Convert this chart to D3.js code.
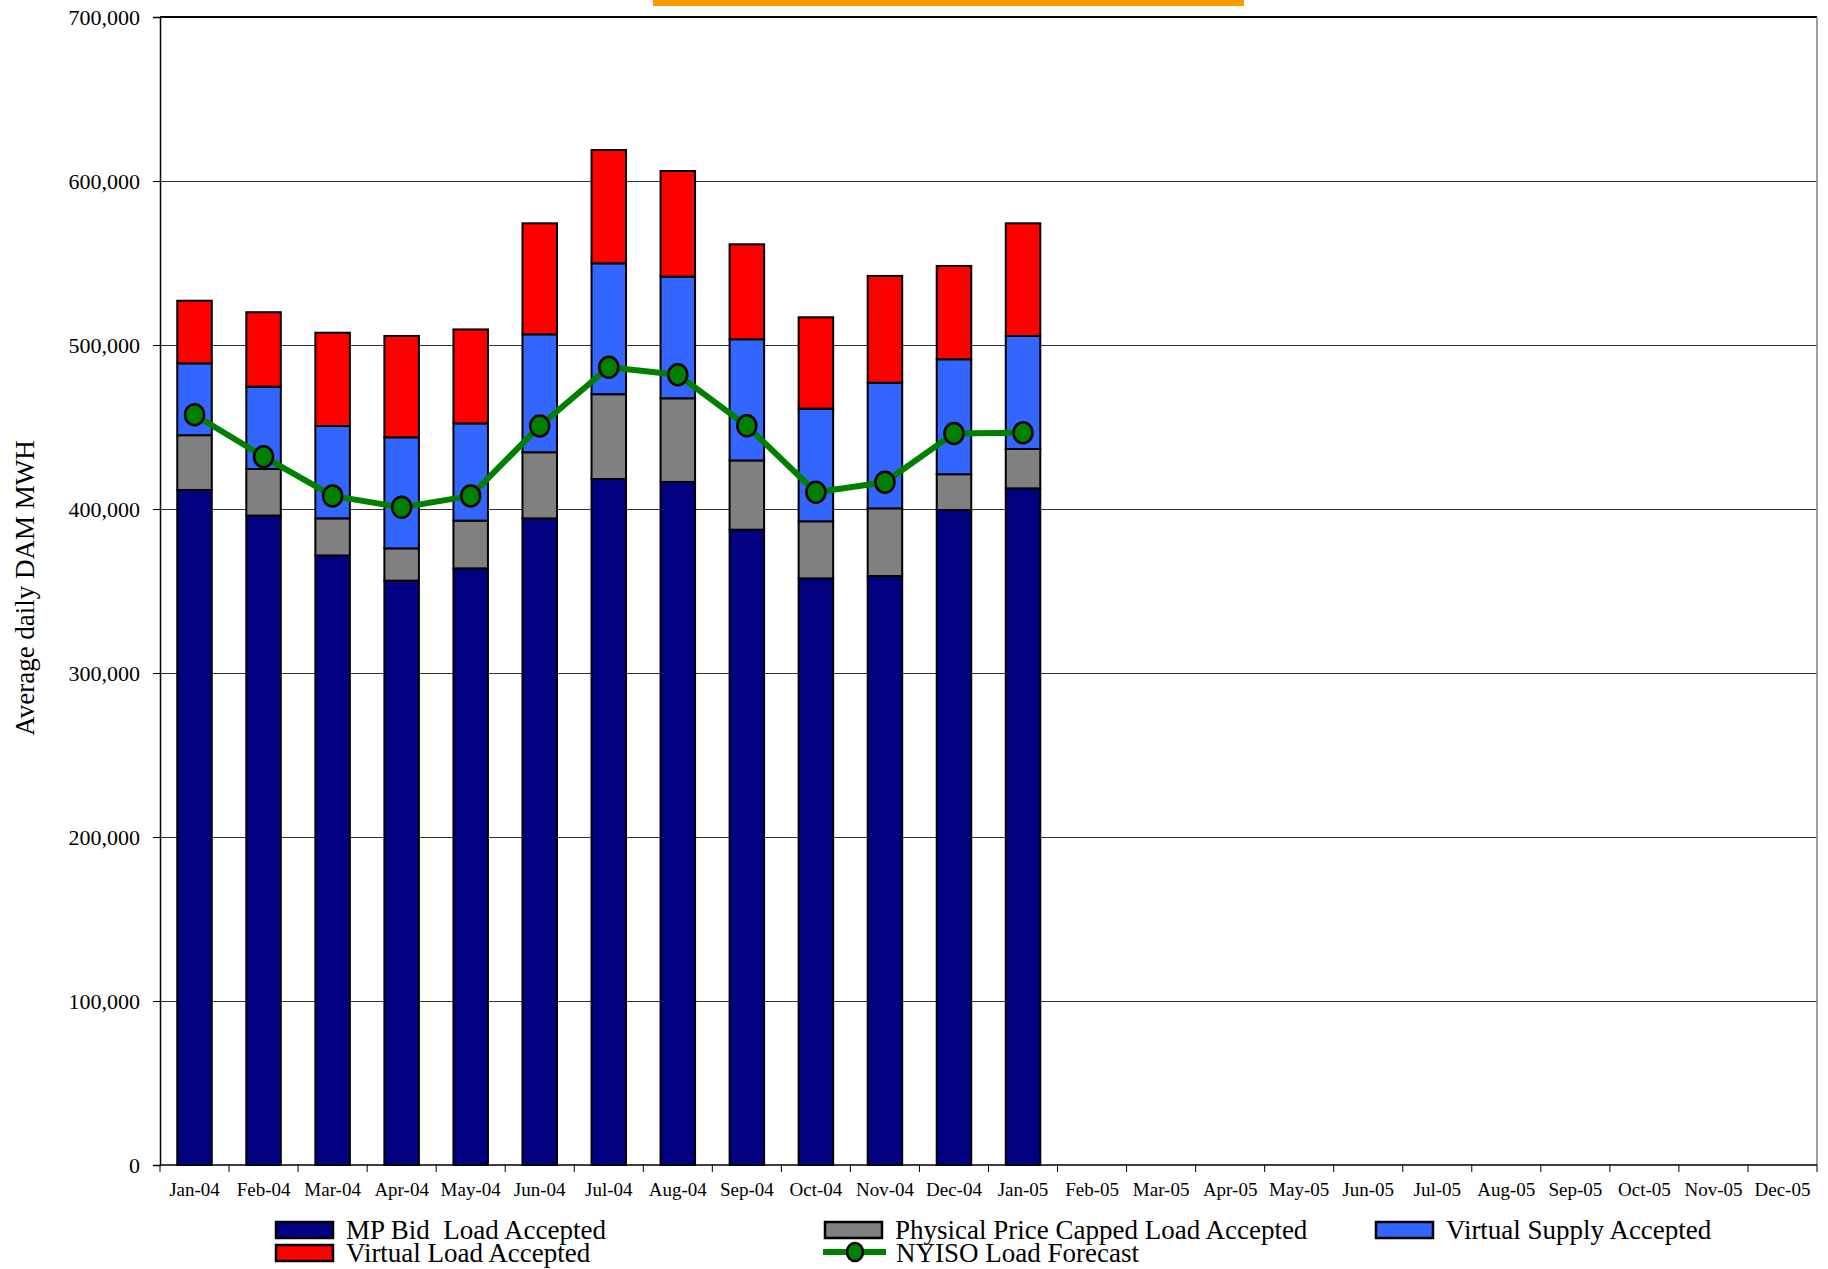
<!DOCTYPE html>
<html>
<head>
<meta charset="utf-8">
<script src="https://cdn.jsdelivr.net/npm/d3@7"></script>
<style>
  body { margin: 0; background: #fff; }
  svg { display: block; font-family: "Liberation Serif", "Times New Roman", serif; }
</style>
</head>
<body>
<div class="d3target"></div>
<script>
'use strict';

// months on the x axis (Jan-04 .. Dec-05)
var months = ['Jan-04','Feb-04','Mar-04','Apr-04','May-04','Jun-04','Jul-04','Aug-04','Sep-04','Oct-04','Nov-04','Dec-04',
              'Jan-05','Feb-05','Mar-05','Apr-05','May-05','Jun-05','Jul-05','Aug-05','Sep-05','Oct-05','Nov-05','Dec-05'];

// stacked series, average daily MWH (only Jan-04 .. Jan-05 have data)
var mpBidLoad      = [411600, 396000, 371700, 356300, 363800, 394300, 418300, 416500, 387400, 357700, 359100, 399400, 412600];
var priceCapped    = [ 33400,  28400,  22600,  19700,  29100,  40300,  51700,  51000,  42200,  34800,  41300,  21800,  24000];
var virtualSupply  = [ 43800,  50200,  56300,  67700,  59300,  71900,  79800,  74200,  73900,  68700,  76600,  70100,  68900];
var virtualLoad    = [ 38200,  45400,  56900,  61800,  57300,  67700,  69100,  64400,  57900,  55700,  65100,  56900,  68700];
var loadForecast   = [457500, 431900, 408000, 401000, 408000, 450600, 486400, 481900, 450700, 410200, 416300, 446100, 446500];

var yTicks = [0, 100000, 200000, 300000, 400000, 500000, 600000, 700000];

var seriesNames = ['MP Bid  Load Accepted', 'Physical Price Capped Load Accepted', 'Virtual Supply Accepted', 'Virtual Load Accepted'];
var seriesColors = ['#000080', '#808080', '#3366FF', '#FF0000'];

var W = 1828, H = 1269;
var plotLeft = 160, plotRight = 1817, plotTop = 17, plotBottom = 1165;

var svg = d3.select('.d3target').append('svg')
	.attr('width', W)
	.attr('height', H);

var x = d3.scaleBand()
	.domain(months)
	.range([plotLeft, plotRight])
	.paddingInner(0.5)
	.paddingOuter(0.25);

var y = d3.scaleLinear()
	.domain([0, 700000])
	.range([plotBottom, plotTop]);

// gridlines
svg.append('g')
	.selectAll('line')
	.data(yTicks.slice(1))
	.enter().append('line')
	.attr('x1', plotLeft).attr('x2', plotRight)
	.attr('y1', function(d) { return y(d); })
	.attr('y2', function(d) { return y(d); })
	.attr('stroke', function(d) { return d == 700000 ? '#000' : '#333'; })
	.attr('stroke-width', function(d) { return d == 700000 ? 1.5 : 1; })
	.attr('shape-rendering', 'crispEdges');

// right border of plot area
svg.append('line')
	.attr('x1', plotRight).attr('x2', plotRight)
	.attr('y1', plotTop).attr('y2', plotBottom)
	.attr('stroke', '#808080').attr('stroke-width', 1.5);

// orange mark at the top
svg.append('rect')
	.attr('x', 653).attr('y', 0)
	.attr('width', 591).attr('height', 6)
	.attr('fill', '#FF9900');

// stacked bars
var rows = mpBidLoad.map(function(v, i) {
	return { month: months[i], s0: v, s1: priceCapped[i], s2: virtualSupply[i], s3: virtualLoad[i] };
});
var stack = d3.stack().keys(['s0', 's1', 's2', 's3']);
var layers = stack(rows);

svg.append('g')
	.selectAll('g')
	.data(layers)
	.enter().append('g')
	.attr('fill', function(d, i) { return seriesColors[i]; })
	.selectAll('rect')
	.data(function(d) { return d; })
	.enter().append('rect')
	.attr('x', function(d) { return x(d.data.month); })
	.attr('width', x.bandwidth())
	.attr('y', function(d) { return y(d[1]); })
	.attr('height', function(d) { return y(d[0]) - y(d[1]); })
	.attr('stroke', '#000')
	.attr('stroke-width', 2);

// load forecast line
var line = d3.line()
	.x(function(d, i) { return x(months[i]) + x.bandwidth() / 2; })
	.y(function(d) { return y(d); });

svg.append('path')
	.datum(loadForecast)
	.attr('d', line)
	.attr('fill', 'none')
	.attr('stroke', '#008000')
	.attr('stroke-width', 6)
	.attr('stroke-linejoin', 'round');

svg.append('g')
	.selectAll('ellipse')
	.data(loadForecast)
	.enter().append('ellipse')
	.attr('cx', function(d, i) { return x(months[i]) + x.bandwidth() / 2; })
	.attr('cy', function(d) { return y(d); })
	.attr('rx', 9.5).attr('ry', 10.5)
	.attr('fill', '#008000')
	.attr('stroke', '#000')
	.attr('stroke-width', 2.5);

// y axis
var yAxis = svg.append('g')
	.attr('transform', 'translate(' + plotLeft + ',0)')
	.call(d3.axisLeft(y).tickValues(yTicks).tickSize(7).tickPadding(13).tickFormat(d3.format(',')));
yAxis.select('.domain').attr('stroke', '#000').attr('stroke-width', 1.5);
yAxis.selectAll('.tick line').attr('stroke', '#000');
yAxis.selectAll('.tick text')
	.attr('font-family', '"Liberation Serif", serif')
	.attr('font-size', 22)
	.attr('fill', '#000');

// x axis: labels centred, ticks between categories
var xAxis = svg.append('g')
	.attr('transform', 'translate(0,' + plotBottom + ')')
	.call(d3.axisBottom(x).tickSize(0).tickPadding(18));
xAxis.select('.domain').remove();
xAxis.selectAll('.tick text')
	.attr('font-family', '"Liberation Serif", serif')
	.attr('font-size', 19)
	.attr('fill', '#000');

svg.append('line')
	.attr('x1', plotLeft).attr('x2', plotRight)
	.attr('y1', plotBottom).attr('y2', plotBottom)
	.attr('stroke', '#000').attr('stroke-width', 1.5);

var bounds = months.map(function(m) { return x(m) + x.bandwidth() / 2 + x.step() / 2; });
svg.append('g')
	.selectAll('line')
	.data([plotLeft].concat(bounds))
	.enter().append('line')
	.attr('x1', function(d) { return d; }).attr('x2', function(d) { return d; })
	.attr('y1', plotBottom).attr('y2', plotBottom + 7)
	.attr('stroke', '#000').attr('stroke-width', 1);

// y axis title
svg.append('text')
	.attr('transform', 'translate(34,588) rotate(-90)')
	.attr('text-anchor', 'middle')
	.attr('font-size', 27)
	.text('Average daily DAM MWH');

// legend
var legendItems = [
	{ name: seriesNames[0], color: seriesColors[0], x: 276, y: 1222 },
	{ name: seriesNames[1], color: seriesColors[1], x: 825, y: 1222 },
	{ name: seriesNames[2], color: seriesColors[2], x: 1376, y: 1222 },
	{ name: seriesNames[3], color: seriesColors[3], x: 276, y: 1245 }
];
var legend = svg.append('g');
legendItems.forEach(function(it) {
	legend.append('rect')
		.attr('x', it.x).attr('y', it.y)
		.attr('width', 57).attr('height', 16)
		.attr('fill', it.color)
		.attr('stroke', '#000').attr('stroke-width', 2.5);
	legend.append('text')
		.attr('x', it.x + 70).attr('y', it.y + 17)
		.attr('font-size', 27)
		.style('white-space', 'pre')
		.text(it.name);
});
legend.append('line')
	.attr('x1', 823).attr('x2', 886)
	.attr('y1', 1252).attr('y2', 1252)
	.attr('stroke', '#008000').attr('stroke-width', 6);
legend.append('ellipse')
	.attr('cx', 855).attr('cy', 1252)
	.attr('rx', 8).attr('ry', 9)
	.attr('fill', '#008000').attr('stroke', '#000').attr('stroke-width', 2.5);
legend.append('text')
	.attr('x', 896).attr('y', 1262)
	.attr('font-size', 27)
	.text('NYISO Load Forecast');
</script>
</body>
</html>
